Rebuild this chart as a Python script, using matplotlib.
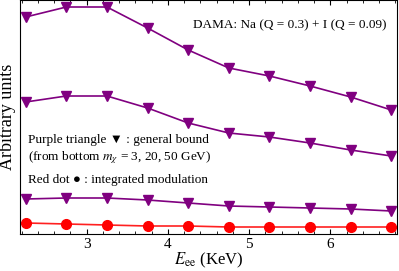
import matplotlib
matplotlib.use('Agg')
import numpy as np
import matplotlib.pyplot as plt
from matplotlib.ticker import MultipleLocator, NullLocator

# recoil energies (KeV)
energy = [2.25, 2.75, 3.25, 3.75, 4.25, 4.75, 5.25, 5.75, 6.25, 6.75]

# general bound, arbitrary units (m_chi = 50, 20, 3 GeV)
bound_50 = [217, 227, 227, 206, 184, 166, 158, 148, 137, 124]
bound_20 = [132, 138, 138, 126, 111, 101, 97, 91, 84, 78]
bound_3 = [35, 36, 36, 34, 31, 28, 27, 26, 25, 23]

# integrated modulation
modulation = [11, 10, 9, 8, 8, 7, 7, 7, 7, 7]

plt.rcParams['font.family'] = ['Liberation Serif', 'DejaVu Serif']
plt.rcParams['mathtext.fontset'] = 'stix'

fig = plt.figure(figsize=(3.99, 2.71), dpi=100)
ax = fig.add_axes([20/399., 37/271., 377/399., 234/271.])

purple = '#800080'
for b in [bound_50, bound_20, bound_3]:
    ax.plot(energy, b, color=purple, lw=1.2, marker='v', ms=7.5, mec=purple, mfc=purple)
ax.plot(energy, modulation, color='#ff2020', lw=1.2, marker='o', ms=7, mec='red', mfc='red')

ax.set_xlim(2.18, 6.82)
ax.set_ylim(0, 234)
ax.xaxis.set_major_locator(MultipleLocator(1))
ax.xaxis.set_minor_locator(MultipleLocator(0.2))
ax.yaxis.set_major_locator(NullLocator())
ax.tick_params(axis='x', which='both', direction='in', top=True, labelsize=11, pad=3)
ax.tick_params(axis='x', which='major', length=3.5)
ax.tick_params(axis='x', which='minor', length=2)

ax.set_xlabel(r'$E_{\rm ee}$ (KeV)', fontsize=12, labelpad=0)
ax.set_ylabel('Arbitrary units', fontsize=13, labelpad=3)

ax.text(0.971, 0.893, 'DAMA: Na (Q = 0.3) + I (Q = 0.09)', transform=ax.transAxes,
        ha='right', va='center', fontsize=9.5)
ax.text(0.02, 0.40, u'Purple triangle \u25bc : general bound', transform=ax.transAxes,
        ha='left', va='center', fontsize=9.5, family=['Liberation Serif', 'DejaVu Sans'])
ax.text(0.02, 0.325, r'(from bottom $m_\chi$ = 3, 20, 50 GeV)', transform=ax.transAxes,
        ha='left', va='center', fontsize=9.5)
ax.text(0.02, 0.23, u'Red dot \u25cf : integrated modulation', transform=ax.transAxes,
        ha='left', va='center', fontsize=9.5, family=['Liberation Serif', 'DejaVu Sans'])

fig.savefig('out.png', dpi=100)
